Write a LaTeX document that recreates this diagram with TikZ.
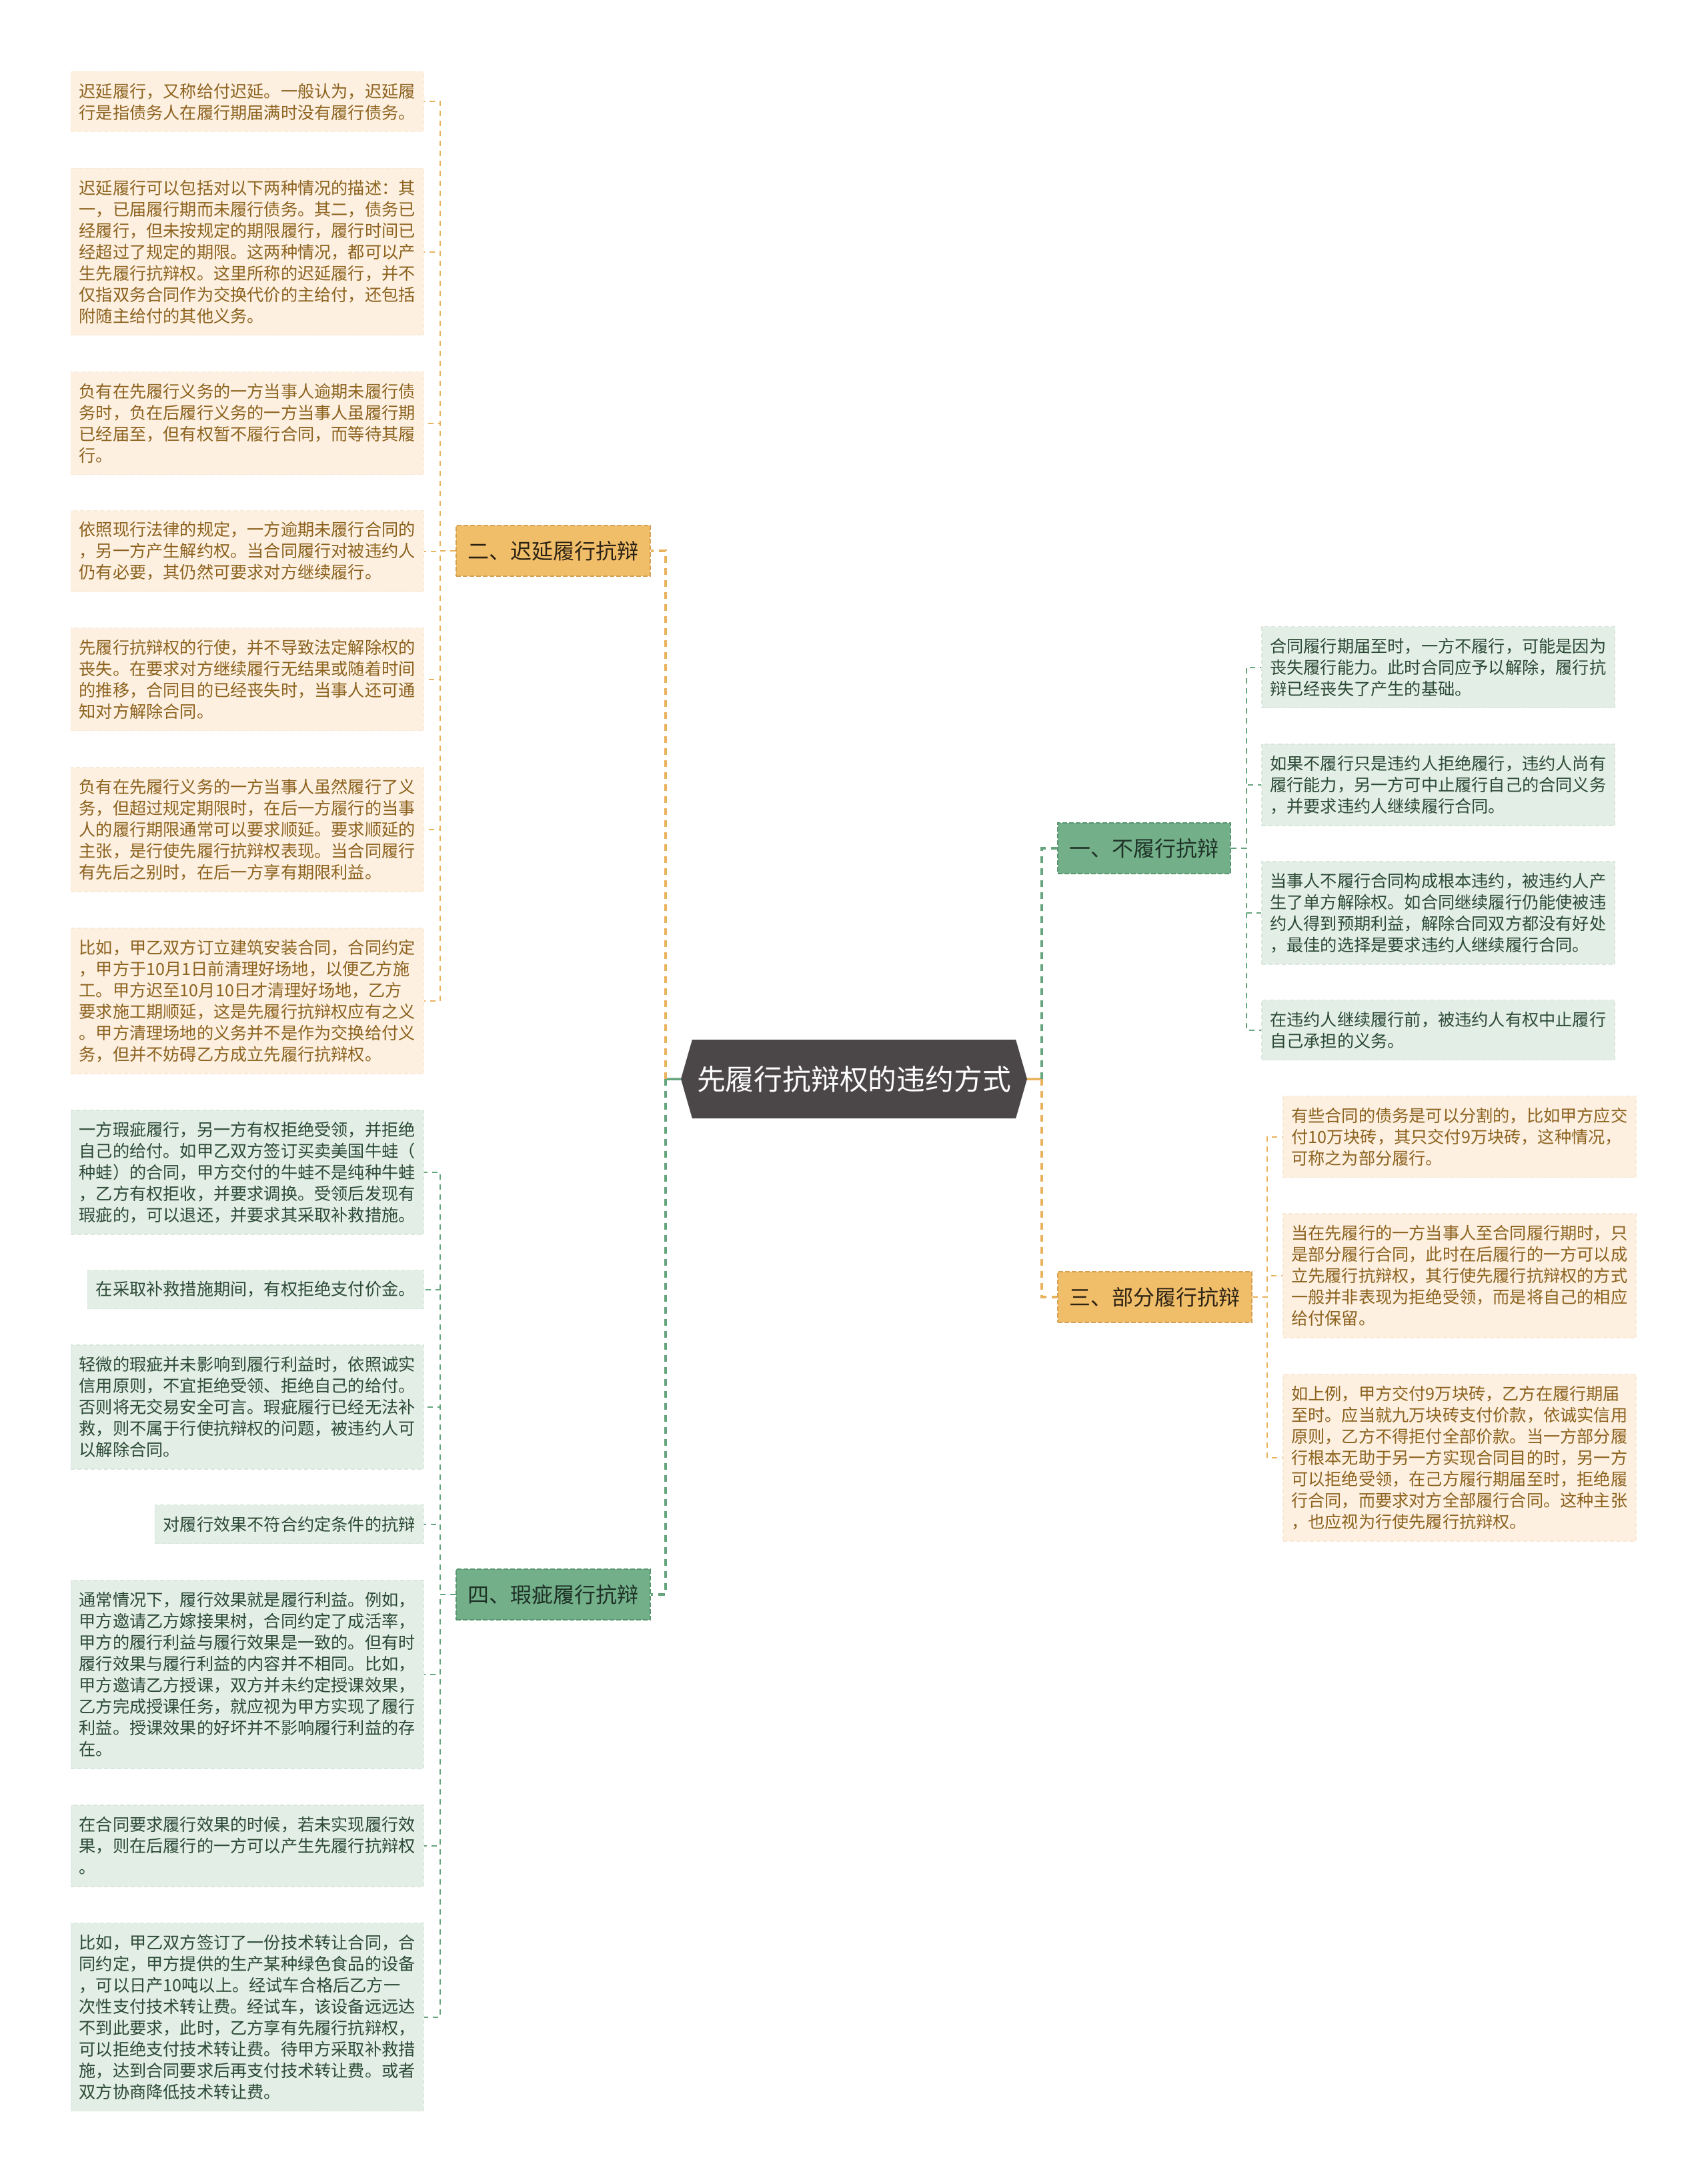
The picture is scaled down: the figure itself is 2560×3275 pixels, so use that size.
\documentclass[tikz,border=0pt]{standalone}
\usepackage{fontspec}
\newfontfamily\cjk{Noto Sans CJK SC}
\usetikzlibrary{shapes.symbols}

\definecolor{rootfill}{RGB}{75,70,71}
\definecolor{obranch}{RGB}{240,189,105}
\definecolor{obranchline}{RGB}{214,160,82}
\definecolor{obtext}{RGB}{45,35,20}
\definecolor{gbranch}{RGB}{115,176,138}
\definecolor{gbranchline}{RGB}{88,150,112}
\definecolor{gbtext}{RGB}{30,50,38}
\definecolor{oleaf}{RGB}{253,240,225}
\definecolor{oleafline}{RGB}{249,232,212}
\definecolor{otext}{RGB}{140,98,30}
\definecolor{gleaf}{RGB}{227,238,230}
\definecolor{gleafline}{RGB}{216,230,220}
\definecolor{gtext}{RGB}{44,74,53}
\definecolor{olinec}{RGB}{233,178,92}
\definecolor{glinec}{RGB}{100,165,125}

\tikzset{
  leaf/.style={rectangle, align=left, inner xsep=12.5pt, inner ysep=4pt,
    font=\cjk\fontsize{25.2}{32}\selectfont, line width=1.5pt,
    dash pattern=on 6pt off 4pt},
  wide/.style={text width=504pt},
  rows/.style={minimum height={#1*32pt+26pt}},
  leafo/.style={leaf, fill=oleaf, draw=oleafline, text=otext},
  leafg/.style={leaf, fill=gleaf, draw=gleafline, text=gtext},
  branch/.style={rectangle, font=\cjk\fontsize{32}{38}\selectfont,
    inner xsep=17.5pt, minimum height=76pt, line width=1.8pt,
    dash pattern=on 7pt off 3pt},
  brancho/.style={branch, fill=obranch, draw=obranchline, text=obtext},
  branchg/.style={branch, fill=gbranch, draw=gbranchline, text=gbtext},
  root/.style={signal, signal to=west and east, signal pointer angle=148,
    fill=rootfill, text=white, font=\cjk\fontsize{42.8}{50}\selectfont,
    minimum width=519pt, minimum height=118pt, inner sep=0pt},
  olink/.style={draw=olinec, line width=2pt, dash pattern=on 8pt off 7pt},
  glink/.style={draw=glinec, line width=2pt, dash pattern=on 8pt off 7pt},
  omain/.style={draw=olinec, line width=3.5pt, dash pattern=on 10pt off 8pt},
  gmain/.style={draw=glinec, line width=3.5pt, dash pattern=on 10pt off 8pt},
  ostem/.style={draw=olinec, line width=3.5pt},
  gstem/.style={draw=glinec, line width=3.5pt}
}

\begin{document}
\begin{tikzpicture}[x=1pt, y=-1pt]

  \fill[white] (0,0) rectangle (2560,3275);
  \useasboundingbox (0,0) rectangle (2560,3275);

  \node[root] (root) at (1280.5,1618) {先履行抗辩权的违约方式};
  \coordinate (jl) at (998,1618);
  \coordinate (jr) at (1562,1618);

  \node[branchg, anchor=west] (b1) at (1585,1272) {一、不履行抗辩};
  \node[brancho, anchor=west] (b2) at (683,826)   {二、迟延履行抗辩};
  \node[brancho, anchor=west] (b3) at (1585,1945) {三、部分履行抗辩};
  \node[branchg, anchor=west] (b4) at (683,2391)  {四、瑕疵履行抗辩};

  \begin{scope}[every node/.style={leafo, wide, anchor=east}]
    \node[rows=2] (l1) at (636,152.5) {迟延履行，又称给付迟延。一般认为，迟延履\\行是指债务人在履行期届满时没有履行债务。};
    \node[rows=7] (l2) at (636,377.5) {迟延履行可以包括对以下两种情况的描述：其\\一，已届履行期而未履行债务。其二，债务已\\经履行，但未按规定的期限履行，履行时间已\\经超过了规定的期限。这两种情况，都可以产\\生先履行抗辩权。这里所称的迟延履行，并不\\仅指双务合同作为交换代价的主给付，还包括\\附随主给付的其他义务。};
    \node[rows=4] (l3) at (636,634.5) {负有在先履行义务的一方当事人逾期未履行债\\务时，负在后履行义务的一方当事人虽履行期\\已经届至，但有权暂不履行合同，而等待其履\\行。};
    \node[rows=3] (l4) at (636,826.5) {依照现行法律的规定，一方逾期未履行合同的\\，另一方产生解约权。当合同履行对被违约人\\仍有必要，其仍然可要求对方继续履行。};
    \node[rows=4] (l5) at (636,1018.5) {先履行抗辩权的行使，并不导致法定解除权的\\丧失。在要求对方继续履行无结果或随着时间\\的推移，合同目的已经丧失时，当事人还可通\\知对方解除合同。};
    \node[rows=5] (l6) at (636,1244) {负有在先履行义务的一方当事人虽然履行了义\\务，但超过规定期限时，在后一方履行的当事\\人的履行期限通常可以要求顺延。要求顺延的\\主张，是行使先履行抗辩权表现。当合同履行\\有先后之别时，在后一方享有期限利益。};
    \node[rows=6] (l7) at (636,1501) {比如，甲乙双方订立建筑安装合同，合同约定\\，甲方于10月1日前清理好场地，以便乙方施\\工。甲方迟至10月10日才清理好场地，乙方\\要求施工期顺延，这是先履行抗辩权应有之义\\。甲方清理场地的义务并不是作为交换给付义\\务，但并不妨碍乙方成立先履行抗辩权。};
  \end{scope}

  \begin{scope}[every node/.style={leafg, anchor=east}]
    \node[wide, rows=5] (m1) at (636,1758) {一方瑕疵履行，另一方有权拒绝受领，并拒绝\\自己的给付。如甲乙双方签订买卖美国牛蛙（\\种蛙）的合同，甲方交付的牛蛙不是纯种牛蛙\\，乙方有权拒收，并要求调换。受领后发现有\\瑕疵的，可以退还，并要求其采取补救措施。};
    \node[rows=1] (m2) at (636,1933.5) {在采取补救措施期间，有权拒绝支付价金。};
    \node[wide, rows=5] (m3) at (636,2110) {轻微的瑕疵并未影响到履行利益时，依照诚实\\信用原则，不宜拒绝受领、拒绝自己的给付。\\否则将无交易安全可言。瑕疵履行已经无法补\\救，则不属于行使抗辩权的问题，被违约人可\\以解除合同。};
    \node[rows=1] (m4) at (636,2285.5) {对履行效果不符合约定条件的抗辩};
    \node[wide, rows=8] (m5) at (636,2511) {通常情况下，履行效果就是履行利益。例如，\\甲方邀请乙方嫁接果树，合同约定了成活率，\\甲方的履行利益与履行效果是一致的。但有时\\履行效果与履行利益的内容并不相同。比如，\\甲方邀请乙方授课，双方并未约定授课效果，\\乙方完成授课任务，就应视为甲方实现了履行\\利益。授课效果的好坏并不影响履行利益的存\\在。};
    \node[wide, rows=3] (m6) at (636,2768) {在合同要求履行效果的时候，若未实现履行效\\果，则在后履行的一方可以产生先履行抗辩权\\。};
    \node[wide, rows=8] (m7) at (636,3024.5) {比如，甲乙双方签订了一份技术转让合同，合\\同约定，甲方提供的生产某种绿色食品的设备\\，可以日产10吨以上。经试车合格后乙方一\\次性支付技术转让费。经试车，该设备远远达\\不到此要求，此时，乙方享有先履行抗辩权，\\可以拒绝支付技术转让费。待甲方采取补救措\\施，达到合同要求后再支付技术转让费。或者\\双方协商降低技术转让费。};
  \end{scope}

  \begin{scope}[every node/.style={leafg, wide, anchor=west}]
    \node[rows=3] (a1) at (1891,1000.5) {合同履行期届至时，一方不履行，可能是因为\\丧失履行能力。此时合同应予以解除，履行抗\\辩已经丧失了产生的基础。};
    \node[rows=3] (a2) at (1891,1177) {如果不履行只是违约人拒绝履行，违约人尚有\\履行能力，另一方可中止履行自己的合同义务\\，并要求违约人继续履行合同。};
    \node[rows=4] (a3) at (1891,1369) {当事人不履行合同构成根本违约，被违约人产\\生了单方解除权。如合同继续履行仍能使被违\\约人得到预期利益，解除合同双方都没有好处\\，最佳的选择是要求违约人继续履行合同。};
    \node[rows=2] (a4) at (1891,1544.5) {在违约人继续履行前，被违约人有权中止履行\\自己承担的义务。};
  \end{scope}

  \begin{scope}[every node/.style={leafo, wide, anchor=west}]
    \node[rows=3] (c1) at (1923,1704.5) {有些合同的债务是可以分割的，比如甲方应交\\付10万块砖，其只交付9万块砖，这种情况，\\可称之为部分履行。};
    \node[rows=5] (c2) at (1923,1913) {当在先履行的一方当事人至合同履行期时，只\\是部分履行合同，此时在后履行的一方可以成\\立先履行抗辩权，其行使先履行抗辩权的方式\\一般并非表现为拒绝受领，而是将自己的相应\\给付保留。};
    \node[rows=7] (c3) at (1923,2186) {如上例，甲方交付9万块砖，乙方在履行期届\\至时。应当就九万块砖支付价款，依诚实信用\\原则，乙方不得拒付全部价款。当一方部分履\\行根本无助于另一方实现合同目的时，另一方\\可以拒绝受领，在己方履行期届至时，拒绝履\\行合同，而要求对方全部履行合同。这种主张\\，也应视为行使先履行抗辩权。};
  \end{scope}

  \draw[gstem] (root) -- (jl);
  \draw[ostem] (root) -- (jr);
  \draw[omain] (jl) |- (b2.east);
  \draw[gmain] (jl) |- (b4.east);
  \draw[gmain] (jr) |- (b1.west);
  \draw[omain] (jr) |- (b3.west);

  \draw[olink] (b2.west) -- ++(-23,0) |- (l1.east);
  \draw[olink] (b2.west) -- ++(-23,0) |- (l2.east);
  \draw[olink] (b2.west) -- ++(-23,0) |- (l3.east);
  \draw[olink] (b2.west) -- ++(-23,0) |- (l4.east);
  \draw[olink] (b2.west) -- ++(-23,0) |- (l5.east);
  \draw[olink] (b2.west) -- ++(-23,0) |- (l6.east);
  \draw[olink] (b2.west) -- ++(-23,0) |- (l7.east);

  \draw[glink] (b4.west) -- ++(-23,0) |- (m1.east);
  \draw[glink] (b4.west) -- ++(-23,0) |- (m2.east);
  \draw[glink] (b4.west) -- ++(-23,0) |- (m3.east);
  \draw[glink] (b4.west) -- ++(-23,0) |- (m4.east);
  \draw[glink] (b4.west) -- ++(-23,0) |- (m5.east);
  \draw[glink] (b4.west) -- ++(-23,0) |- (m6.east);
  \draw[glink] (b4.west) -- ++(-23,0) |- (m7.east);

  \draw[glink] (b1.east) -- ++(23,0) |- (a1.west);
  \draw[glink] (b1.east) -- ++(23,0) |- (a2.west);
  \draw[glink] (b1.east) -- ++(23,0) |- (a3.west);
  \draw[glink] (b1.east) -- ++(23,0) |- (a4.west);

  \draw[olink] (b3.east) -- ++(22,0) |- (c1.west);
  \draw[olink] (b3.east) -- ++(22,0) |- (c2.west);
  \draw[olink] (b3.east) -- ++(22,0) |- (c3.west);

\end{tikzpicture}
\end{document}
